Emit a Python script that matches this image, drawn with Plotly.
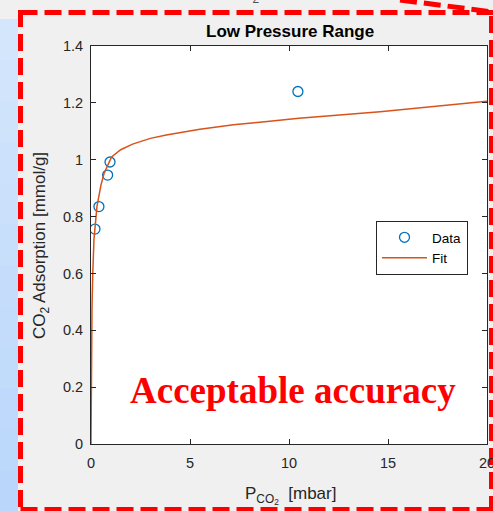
import plotly.graph_objects as go

# ---- data ----
data_p = [0.2, 0.4, 0.84, 0.96, 10.45]
data_q = [0.756, 0.835, 0.946, 0.992, 1.240]

fit_p = [0, 0.005, 0.02, 0.05, 0.09, 0.15, 0.3, 0.5, 0.66, 0.8, 1.04, 1.5, 2.1, 3.0, 3.8, 5.5, 7.2, 8.9, 10.5, 14.6, 20]
fit_q = [0, 0.12, 0.25, 0.48, 0.60, 0.72, 0.835, 0.91, 0.952, 0.975, 1.01, 1.035, 1.055, 1.075, 1.087, 1.107, 1.123, 1.134, 1.146, 1.169, 1.206]

x_ticks = [0, 5, 10, 15]
x_last_tick = 20
y_ticks = [0, 0.2, 0.4, 0.6, 0.8, 1.0, 1.2, 1.4]
y_tick_labels = ["0", "0.2", "0.4", "0.6", "0.8", "1", "1.2", "1.4"]

W, H = 493, 511
L, R, T, B = 91, 6, 46, 67
PW, PH = W - L - R, H - T - B

def px(xp):
    return (xp - L) / PW

def py(yp):
    return (H - B - yp) / PH

AX = "#262626"
FONT = "Liberation Sans, Arial, sans-serif"
TICK = 14.5

fig = go.Figure()
fig.add_trace(go.Scatter(
    x=data_p, y=data_q, mode="markers", name="Data",
    marker=dict(symbol="circle-open", size=10, color="#0072BD", line=dict(width=1.3, color="#0072BD")),
))
fig.add_trace(go.Scatter(
    x=fit_p, y=fit_q, mode="lines", name="Fit",
    line=dict(color="#D95319", width=1.5),
))

shapes = []
# light blue strip on the left (approximate gradient)
n = 12
for i in range(n):
    t = i / (n - 1)
    r = int(212 + (186 - 212) * t)
    g = int(230 + (215 - 230) * t)
    b = int(252 + (251 - 252) * t)
    y0 = 19 + (511 - 19) * i / n
    y1 = 19 + (511 - 19) * (i + 1) / n
    shapes.append(dict(type="rect", xref="paper", yref="paper", layer="below",
                       x0=px(0), x1=px(18), y0=py(y1), y1=py(y0),
                       fillcolor=f"rgb({r},{g},{b})", line=dict(width=0)))

red = dict(color="#ff0000", width=5, dash="17px,7px")
for (x0, y0, x1, y1) in [(20.5, 12.5, 493, 12.5), (20.5, 10, 20.5, 511), (20.5, 509.5, 493, 509.5),
                         (491.5, 16, 491.5, 511), (400, 0, 493, 12)]:
    shapes.append(dict(type="line", xref="paper", yref="paper",
                       x0=px(x0), y0=py(y0), x1=px(x1), y1=py(y1), line=red))

annotations = [
    dict(text="<b>Low Pressure Range</b>", x=px(289.5), y=py(31), xref="paper", yref="paper",
         xanchor="center", yanchor="middle", showarrow=False, font=dict(size=17, color="#000000", family=FONT)),
    dict(text="CO<sub>2</sub> Adsorption [mmol/g]", x=px(41), y=py(246), xref="paper", yref="paper",
         xanchor="center", yanchor="middle", textangle=-90, showarrow=False,
         font=dict(size=17, color=AX, family=FONT)),
    dict(text="P<sub>CO<sub>2</sub></sub>  [mbar]", x=px(290), y=py(496), xref="paper", yref="paper",
         xanchor="center", yanchor="middle", showarrow=False, font=dict(size=17, color=AX, family=FONT)),
    dict(text="<b>Acceptable accuracy</b>", x=px(293), y=py(390), xref="paper", yref="paper",
         xanchor="center", yanchor="middle", showarrow=False,
         font=dict(size=37, color="#ff0000", family="Liberation Serif, Times New Roman, serif")),
    dict(text=str(x_last_tick), x=x_last_tick, y=py(463), xref="x", yref="paper",
         xanchor="center", yanchor="middle", showarrow=False, font=dict(size=TICK, color=AX, family=FONT)),
    dict(text="CO<sub>2</sub>", x=px(243), y=py(8), xref="paper", yref="paper",
         xanchor="center", yanchor="bottom", showarrow=False, font=dict(size=17, color="#505050", family=FONT)),
]

fig.update_layout(
    width=W, height=H,
    margin=dict(l=L, r=R, t=T, b=B),
    paper_bgcolor="#f0f0f0", plot_bgcolor="#ffffff",
    font=dict(family=FONT, size=12, color=AX),
    shapes=shapes, annotations=annotations,
    showlegend=True,
    legend=dict(x=px(376), y=py(221), xanchor="left", yanchor="top",
                bgcolor="#ffffff", bordercolor=AX, borderwidth=1,
                font=dict(size=13.5, color="#000000", family=FONT),
                itemwidth=45, tracegroupgap=0),
    xaxis=dict(range=[0, 20], tickvals=x_ticks + [x_last_tick], ticktext=[str(v) for v in x_ticks] + [""],
               ticks="inside", ticklen=5, tickcolor=AX, ticklabelstandoff=6,
               showline=True, linecolor=AX, linewidth=1, mirror="ticks", showgrid=False,
               zeroline=False, tickfont=dict(size=TICK, color=AX)),
    yaxis=dict(range=[0, 1.4], tickvals=y_ticks, ticktext=y_tick_labels, ticks="inside", ticklen=5,
               tickcolor=AX, ticklabelstandoff=4, showline=True, linecolor=AX, linewidth=1, mirror="ticks",
               showgrid=False, zeroline=False, tickfont=dict(size=TICK, color=AX)),
)

fig.write_html("out.html")
